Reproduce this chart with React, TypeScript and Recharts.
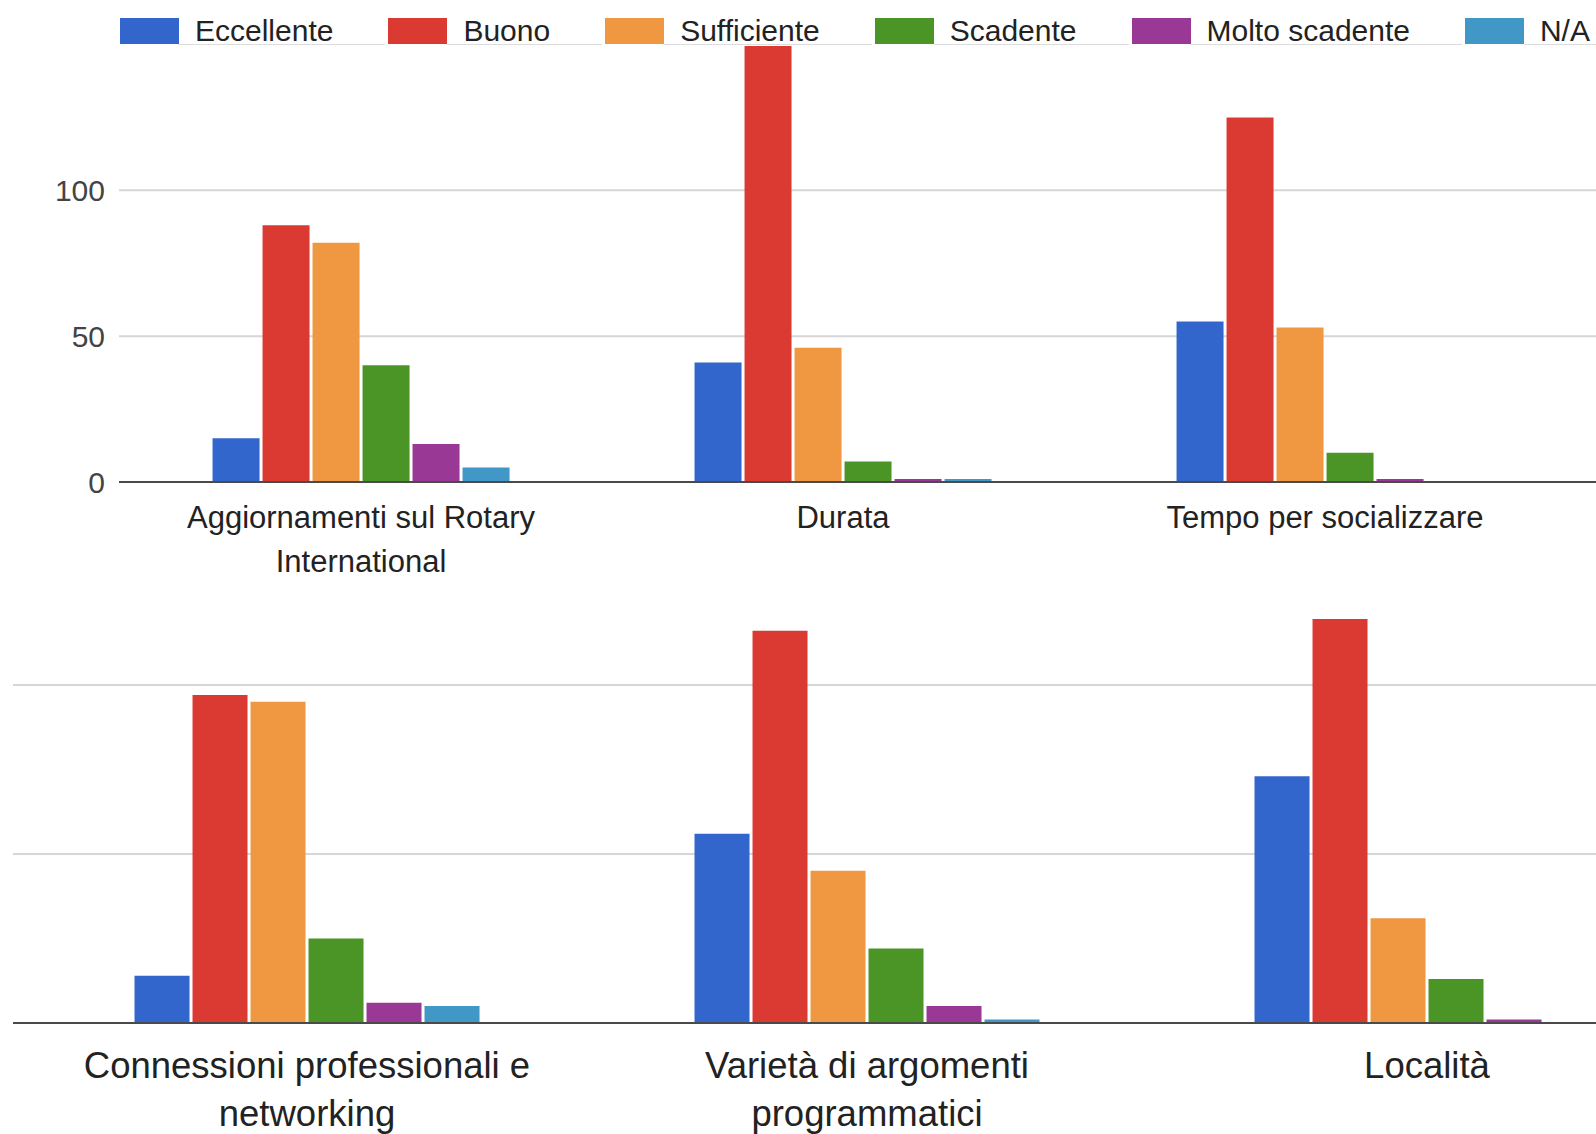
import React from 'react';
import { BarChart, Bar, XAxis, YAxis, CartesianGrid, Legend } from 'recharts';

const FONT = '"Liberation Sans", Arial, Helvetica, sans-serif';

// Series
const seriesNames = ['Eccellente', 'Buono', 'Sufficiente', 'Scadente', 'Molto scadente', 'N/A'];
const seriesKeys = ['eccellente', 'buono', 'sufficiente', 'scadente', 'moltoScadente', 'na'];
const seriesColors = ['#3366CC', '#DB3A32', '#EF9741', '#4A9526', '#9A3896', '#4197C6'];

// Top chart
const topCategories = ['Aggiornamenti sul Rotary\nInternational', 'Durata', 'Tempo per socializzare'];
const topEccellente = [15, 41, 55];
const topBuono = [88, 150, 125];
const topSufficiente = [82, 46, 53];
const topScadente = [40, 7, 10];
const topMoltoScadente = [13, 1, 1];
const topNA = [5, 1, 0];

// Bottom chart
const bottomCategories = ['Connessioni professionali e\nnetworking', 'Varietà di argomenti\nprogrammatici', 'Località'];
const bottomEccellente = [14, 56, 73];
const bottomBuono = [97, 116, 126];
const bottomSufficiente = [95, 45, 31];
const bottomScadente = [25, 22, 13];
const bottomMoltoScadente = [6, 5, 1];
const bottomNA = [5, 1, 0];

const yTicks = [0, 50, 100];

function buildRows(cats: string[], cols: number[][]) {
  return cats.map((c, i) => {
    const row: Record<string, string | number> = { category: c };
    seriesKeys.forEach((k, j) => {
      row[k] = cols[j][i];
    });
    return row;
  });
}

const topData = buildRows(topCategories, [topEccellente, topBuono, topSufficiente, topScadente, topMoltoScadente, topNA]);
const bottomData = buildRows(bottomCategories, [bottomEccellente, bottomBuono, bottomSufficiente, bottomScadente, bottomMoltoScadente, bottomNA]);

function CategoryTick(props: any) {
  const { x, y, payload, fontSize, firstOffset, lineGap } = props;
  const lines = String(payload.value).split('\n');
  return (
    <text x={x} y={y} textAnchor="middle" fill="#222" fontSize={fontSize} fontFamily={FONT}>
      {lines.map((l: string, i: number) => (
        <tspan key={i} x={x} y={y + firstOffset + i * lineGap}>{l}</tspan>
      ))}
    </text>
  );
}

function LegendContent(props: any) {
  const items = [...(props.payload || [])].sort(
    (a: any, b: any) => seriesNames.indexOf(a.value) - seriesNames.indexOf(b.value)
  );
  return (
    <div style={{ display: 'flex', paddingLeft: 120, paddingTop: 18, whiteSpace: 'nowrap', fontFamily: FONT }}>
      {items.map((p: any) => (
        <div key={p.value} style={{ display: 'flex', alignItems: 'flex-start', marginRight: 3 }}>
          <span style={{ display: 'inline-block', width: 59, height: 26, background: p.color }} />
          <span
            style={{
              display: 'inline-block',
              paddingLeft: 16,
              paddingRight: 52,
              height: 26,
              lineHeight: '26px',
              fontSize: 30,
              color: '#222',
              borderBottom: '1px solid #dcdcdc',
            }}
          >
            {p.value}
          </span>
        </div>
      ))}
    </div>
  );
}

export default function App() {
  return (
    <div style={{ position: 'absolute', left: 0, top: 0, width: 1596, height: 1134, overflow: 'hidden', background: '#fff' }}>
      <div style={{ position: 'absolute', left: 0, top: 0 }}>
        <BarChart
          width={1596}
          height={600}
          data={topData}
          margin={{ top: 46, right: 0, bottom: 0, left: 0 }}
          barCategoryGap="19.2%"
          barGap={3}
        >
          <CartesianGrid vertical={false} stroke="#d6d6d6" strokeWidth={2} horizontalValues={yTicks} />
          <XAxis
            dataKey="category"
            height={118}
            padding={{ left: 1, right: 30 }}
            axisLine={{ stroke: '#4a4a4a', strokeWidth: 2 }}
            tickLine={false}
            tickSize={0}
            tickMargin={0}
            interval={0}
            tick={(p: any) => <CategoryTick {...p} fontSize={31} firstOffset={46} lineGap={44} />}
          />
          <YAxis
            width={119}
            domain={[0, 149.5]}
            allowDataOverflow
            ticks={yTicks}
            interval={0}
            axisLine={false}
            tickLine={false}
            tickSize={0}
            tickMargin={14}
            tick={{ fill: '#444', fontSize: 30, fontFamily: FONT }}
          />
          <Legend
            verticalAlign="middle"
            align="center"
            layout="horizontal"
            content={<LegendContent />}
            wrapperStyle={{ position: 'absolute', top: 0, left: 0, width: 1596, height: 46, margin: 0 }}
          />
          {seriesKeys.map((k, i) => (
            <Bar key={k} dataKey={k} name={seriesNames[i]} fill={seriesColors[i]} isAnimationActive={false} />
          ))}
        </BarChart>
      </div>
      <div style={{ position: 'absolute', left: 0, top: 580 }}>
        <BarChart
          width={1720}
          height={554}
          data={bottomData}
          margin={{ top: 39, right: 0, bottom: 0, left: 13 }}
          barCategoryGap="19.2%"
          barGap={3}
        >
          <CartesianGrid vertical={false} stroke="#d6d6d6" strokeWidth={2} horizontalValues={yTicks} />
          <XAxis
            dataKey="category"
            height={111}
            padding={{ left: 14, right: 13 }}
            axisLine={{ stroke: '#4a4a4a', strokeWidth: 2 }}
            tickLine={false}
            tickSize={0}
            tickMargin={0}
            interval={0}
            tick={(p: any) => <CategoryTick {...p} fontSize={36.5} firstOffset={55} lineGap={48} />}
          />
          <YAxis hide width={0} domain={[0, 119.5]} allowDataOverflow ticks={yTicks} interval={0} />
          {seriesKeys.map((k, i) => (
            <Bar key={k} dataKey={k} name={seriesNames[i]} fill={seriesColors[i]} isAnimationActive={false} />
          ))}
        </BarChart>
      </div>
    </div>
  );
}
